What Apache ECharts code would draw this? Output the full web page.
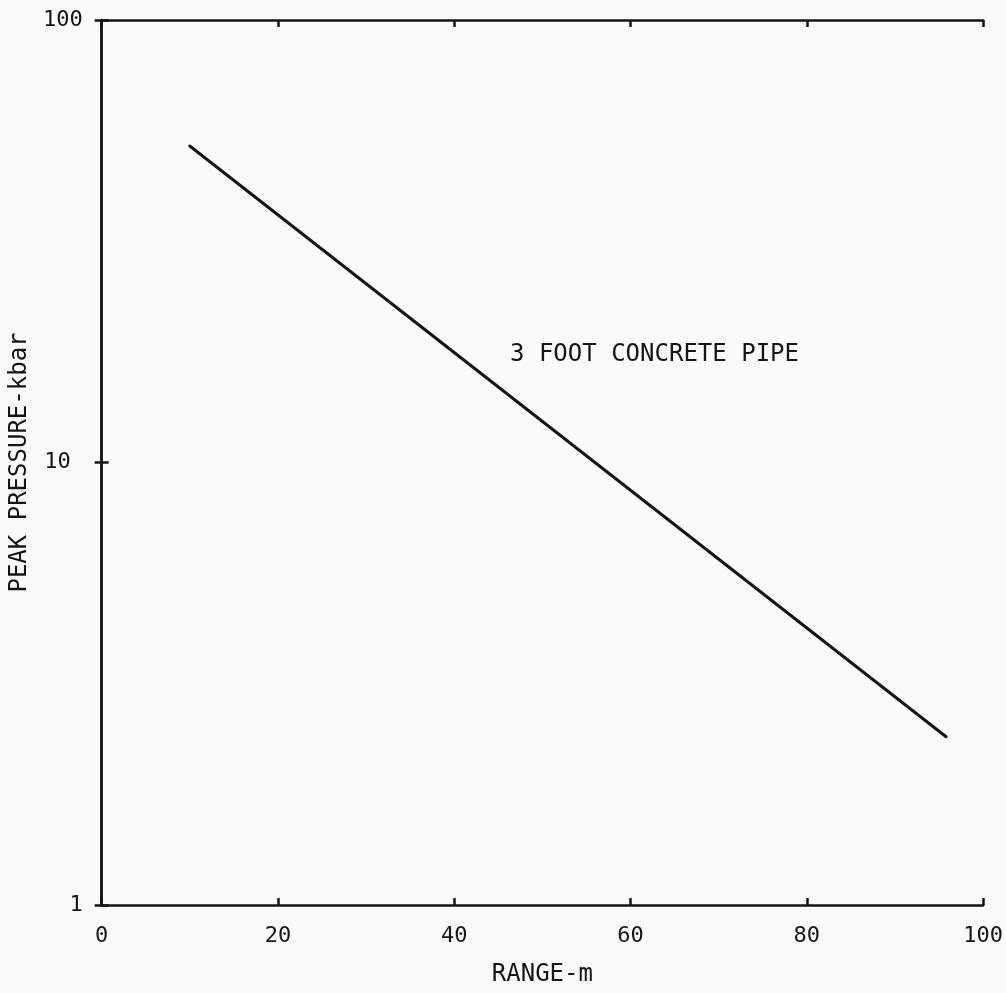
<!DOCTYPE html>
<html>
<head>
<meta charset="utf-8">
<script src="https://cdn.jsdelivr.net/npm/echarts@6/dist/echarts.min.js"></script>
<style>
html,body{margin:0;padding:0;background:#fafafa;}
#chart{width:1006px;height:993px;}
</style>
</head>
<body>
<div id="chart"></div>
<script>
// Data
const rangeM = [10, 95.8];
const peakPressureKbar = [51.9, 2.40];
const xTicks = [0, 20, 40, 60, 80, 100];
const yTicks = [1, 10, 100];
const seriesLabel = '3 FOOT CONCRETE PIPE';
const xTitle = 'RANGE-m';
const yTitle = 'PEAK PRESSURE-kbar';

const font = 'DejaVu Sans Mono';
const ink = '#151515';

const chart = echarts.init(document.getElementById('chart'));
const axisLine = {show: true, lineStyle: {color: ink, width: 2.5}};
const ticks = {show: true, inside: true, length: 7, lineStyle: {color: ink, width: 2.5}};

chart.setOption({
  backgroundColor: '#fafafa',
  animation: false,
  grid: {left: 97, right: 21, top: 20, bottom: 88},
  xAxis: [
    {
      type: 'value', position: 'bottom', min: 0, max: 100, interval: 20,
      axisLine: axisLine, axisTick: ticks, splitLine: {show: false},
      axisLabel: {color: ink, fontFamily: font, fontSize: 22, margin: 20,
        formatter: v => xTicks.includes(v) ? String(v) : ''},
      name: xTitle, nameLocation: 'middle', nameGap: 58,
      nameTextStyle: {color: ink, fontFamily: font, fontSize: 24}
    },
    {
      type: 'value', position: 'top', min: 0, max: 100, interval: 20,
      axisLine: axisLine, axisTick: ticks, splitLine: {show: false},
      axisLabel: {show: false}
    }
  ],
  yAxis: [
    {
      type: 'log', logBase: 10, position: 'left', min: 1, max: 100,
      axisLine: axisLine, axisTick: ticks, splitLine: {show: false},
      minorTick: {show: false},
      axisLabel: {color: ink, fontFamily: font, fontSize: 22, margin: 19,
        formatter: v => {
          const r = Math.round(v);
          if (!yTicks.includes(r)) return '';
          return r === 10 ? '{m|' + r + '}' : String(r);
        },
        rich: {m: {fontFamily: font, fontSize: 22, color: ink, padding: [0, 12, 0, 0]}}
      },
      name: yTitle, nameLocation: 'middle', nameGap: 61, nameRotate: 90,
      nameTextStyle: {color: ink, fontFamily: font, fontSize: 24}
    },
    {
      type: 'log', logBase: 10, position: 'right', min: 1, max: 100,
      axisLine: axisLine, axisTick: ticks, splitLine: {show: false},
      axisLabel: {show: false}
    }
  ],
  graphic: [
    {
      type: 'text', left: 510, top: 343,
      style: {text: seriesLabel, fill: ink, font: '24px "' + font + '"'}
    }
  ],
  series: [
    {
      name: seriesLabel,
      type: 'line',
      xAxisIndex: 0, yAxisIndex: 0,
      data: rangeM.map((x, i) => [x, peakPressureKbar[i]]),
      showSymbol: false, symbol: 'none',
      lineStyle: {color: ink, width: 3, cap: 'round'}
    }
  ]
});
</script>
</body>
</html>
